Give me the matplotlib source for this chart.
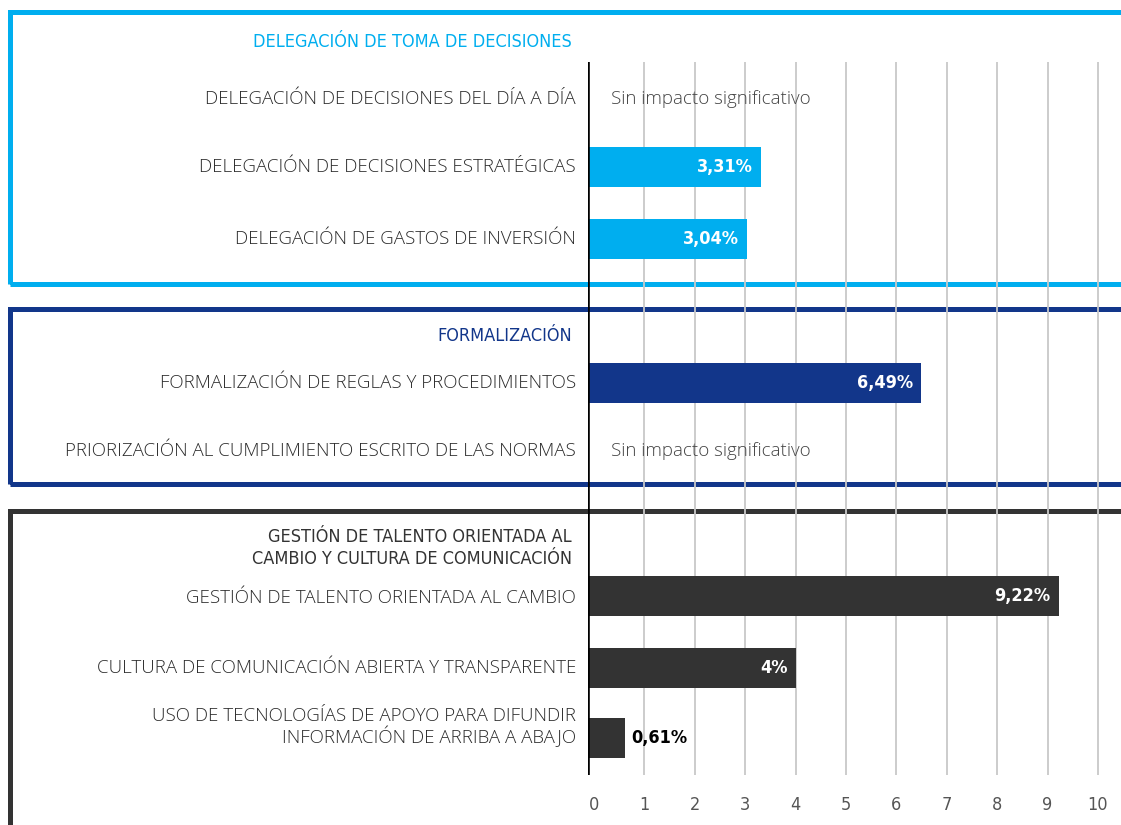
import matplotlib
matplotlib.use('Agg')
import matplotlib.pyplot as plt
from matplotlib.patches import Rectangle

# datos
group_titles = ['DELEGACIÓN DE TOMA DE DECISIONES',
                'FORMALIZACIÓN',
                'GESTIÓN DE TALENTO ORIENTADA AL\nCAMBIO Y CULTURA DE COMUNICACIÓN']
labels = ['DELEGACIÓN DE DECISIONES DEL DÍA A DÍA',
          'DELEGACIÓN DE DECISIONES ESTRATÉGICAS',
          'DELEGACIÓN DE GASTOS DE INVERSIÓN',
          'FORMALIZACIÓN DE REGLAS Y PROCEDIMIENTOS',
          'PRIORIZACIÓN AL CUMPLIMIENTO ESCRITO DE LAS NORMAS',
          'GESTIÓN DE TALENTO ORIENTADA AL CAMBIO',
          'CULTURA DE COMUNICACIÓN ABIERTA Y TRANSPARENTE',
          'USO DE TECNOLOGÍAS DE APOYO PARA DIFUNDIR\nINFORMACIÓN DE ARRIBA A ABAJO']
values = [None, 3.31, 3.04, 6.49, None, 9.22, 4.0, 0.61]
value_text = ['', '3,31%', '3,04%', '6,49%', '', '9,22%', '4%', '0,61%']
groups = [0, 0, 0, 1, 1, 2, 2, 2]
no_effect = 'Sin impacto significativo'
ticks = list(range(0, 11))

group_colors = ['#00AEEF', '#12368A', '#333333']

# layout en pixeles (y hacia abajo)
W, H = 1121, 825
row_y = [99, 167, 239, 383, 451, 596, 668, 738]
label_y = [99, 167, 239, 383, 451, 598, 668, 727]
title_y = [42, 336, 548]
box_y = [(12, 284), (309, 484), (511, 840)]
ax_top, ax_bottom = 62, 775
x_zero, x_unit = 594, 50.4

narrow = ['DejaVu Sans']
light = ['Open Sans', 'DejaVu Sans']


def fx(x):
    return x / W


def fy(y):
    return 1 - y / H


fig = plt.figure(figsize=(W / 100, H / 100), dpi=100)

x_left = (588 - x_zero) / x_unit
x_right = (W - x_zero) / x_unit
ax = fig.add_axes([fx(588), fy(ax_bottom), fx(W - 588), (ax_bottom - ax_top) / H])
ax.set_xlim(x_left, x_right)
ax.set_ylim(ax_bottom, ax_top)
ax.patch.set_alpha(0)
for s in ax.spines.values():
    s.set_visible(False)
ax.set_yticks([])
ax.set_xticks(ticks)
ax.tick_params(axis='x', length=0, pad=15, labelsize=13, labelcolor='#555555')
for t in ax.get_xticklabels():
    t.set_family(narrow)
    t.set_fontstretch('condensed')
    t.set_fontweight('light')
for t in ticks[1:]:
    ax.axvline(t, color='#c8c8c8', lw=1.3, zorder=1)
ax.axvline(x_left, color='black', lw=2.6, zorder=5)

# cajas de cada grupo
for g, (top, bot) in enumerate(box_y):
    fig.add_artist(Rectangle((fx(10), fy(bot)), fx(W + 20 - 10), (bot - top) / H,
                             transform=fig.transFigure, fill=False,
                             edgecolor=group_colors[g], lw=3.6, zorder=0))
    fig.text(fx(572), fy(title_y[g]), group_titles[g], ha='right', va='center',
             color=group_colors[g], fontsize=13, family=narrow,
             fontstretch='condensed', linespacing=1.3)

for i, lab in enumerate(labels):
    fig.text(fx(576), fy(label_y[i]), lab, ha='right', va='center', fontsize=13.5,
             color='#2b2b2b', family=light, fontweight='light', linespacing=1.05)
    c = group_colors[groups[i]]
    if values[i] is None:
        ax.text(0.34, row_y[i], no_effect, ha='left', va='center', fontsize=13.5,
                color='#444444', family=light, fontweight='light', zorder=6)
        continue
    ax.barh(row_y[i], values[i] - x_left, left=x_left, height=40, color=c, zorder=3)
    if values[i] > 1:
        ax.text(values[i] - 0.16, row_y[i], value_text[i], ha='right', va='center',
                color='white', fontsize=13, fontweight='bold', family=narrow,
                fontstretch='condensed', zorder=6)
    else:
        ax.text(values[i] + 0.12, row_y[i], value_text[i], ha='left', va='center',
                color='black', fontsize=13, fontweight='bold', family=narrow,
                fontstretch='condensed', zorder=6)

fig.savefig('out.png', dpi=100)
